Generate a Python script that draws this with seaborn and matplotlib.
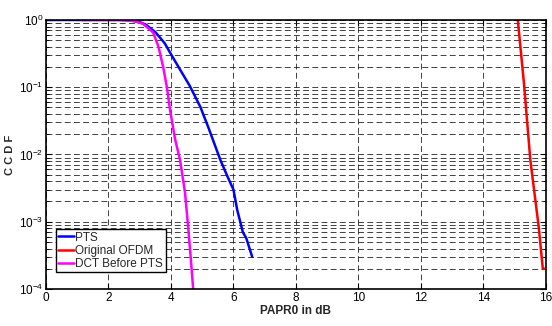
import numpy as np
import pandas as pd
import seaborn as sns
import matplotlib.pyplot as plt
from matplotlib.ticker import LogLocator, MultipleLocator, NullFormatter

# curve values
pts_x = [0, 2.5, 2.7, 3.0, 3.2, 3.5, 3.8, 4.0, 4.3, 4.6, 4.94, 5.2, 5.4, 5.58, 5.8, 6.0, 6.12, 6.3, 6.41, 6.6]
pts_y = [1, 1, 0.98, 0.93, 0.85, 0.66, 0.45, 0.31, 0.18, 0.105, 0.051, 0.025, 0.014, 0.0083, 0.0048, 0.0030, 0.0015, 0.0007, 0.00057, 0.0003]

ofdm_x = [15.1, 15.3, 15.5, 15.77, 15.9, 15.97]
ofdm_y = [1, 0.11, 0.0083, 0.00083, 0.0002, 0.0002]

dct_x = [1.15, 2.3, 2.8, 3.1, 3.43, 3.6, 3.75, 3.87, 3.97, 4.13, 4.29, 4.45, 4.55, 4.63, 4.71]
dct_y = [1, 1, 0.97, 0.88, 0.65, 0.4, 0.2, 0.1, 0.046, 0.017, 0.0083, 0.0027, 0.00083, 0.0003, 0.0001]

labels = ['PTS', 'Original OFDM', 'DCT Before PTS']
colors = ['#0000ff', '#ff0000', '#ff00ff']

df = pd.concat([
    pd.DataFrame({'x': pts_x, 'y': pts_y, 'method': labels[0]}),
    pd.DataFrame({'x': ofdm_x, 'y': ofdm_y, 'method': labels[1]}),
    pd.DataFrame({'x': dct_x, 'y': dct_y, 'method': labels[2]}),
])

sns.set_style('ticks')
plt.rcParams['font.family'] = ['Liberation Sans', 'DejaVu Sans']
plt.rcParams['mathtext.fontset'] = 'custom'
plt.rcParams['mathtext.rm'] = 'Liberation Sans'
plt.rcParams['mathtext.it'] = 'Liberation Sans'

fig = plt.figure(figsize=(5.52, 3.26), dpi=100)
ax = fig.add_axes([0.0833, 0.1135, 0.9057, 0.8252])

sns.lineplot(data=df, x='x', y='y', hue='method', hue_order=labels,
             palette=colors, sort=False, estimator=None, linewidth=1.8, ax=ax)

ax.set_yscale('log')
ax.set_xlim(0, 16)
ax.set_ylim(1e-4, 1)
ax.xaxis.set_major_locator(MultipleLocator(2))
ax.yaxis.set_major_locator(LogLocator(base=10, numticks=10))
ax.yaxis.set_minor_locator(LogLocator(base=10, subs=np.arange(2, 10), numticks=20))
ax.yaxis.set_minor_formatter(NullFormatter())

ax.grid(True, which='major', axis='both', color='#222222', linestyle=(0, (7, 4)), linewidth=0.6)
ax.grid(True, which='minor', axis='y', color='#222222', linestyle=(0, (7, 4)), linewidth=0.6)

ax.tick_params(which='both', direction='in', top=True, right=True, labelsize=8.5, colors='black', pad=2)
ax.tick_params(which='major', length=4)
ax.tick_params(which='minor', length=2)
for s in ax.spines.values():
    s.set_linewidth(1.2)
    s.set_color('black')

ax.set_xlabel('PAPR0 in dB', fontsize=8.5, fontweight='bold', labelpad=1)
ax.set_ylabel('C C D F', fontsize=8, fontweight='bold')
ax.yaxis.set_label_coords(-0.062, 0.5)

leg = ax.legend(loc='lower left', bbox_to_anchor=(0.02, 0.062), fontsize=8.5,
                fancybox=False, framealpha=1, edgecolor='black', handlelength=1.3,
                handletextpad=0.15, borderpad=0.2, labelspacing=0.1, borderaxespad=0)
leg.get_frame().set_linewidth(1.0)

fig.savefig('out.png', dpi=100)
